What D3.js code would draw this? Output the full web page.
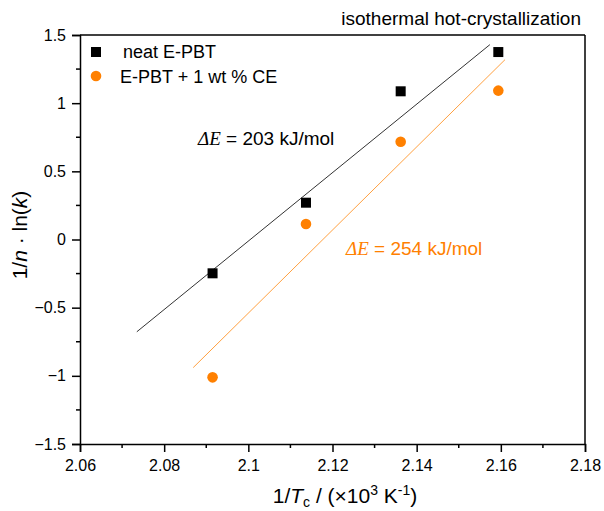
<!DOCTYPE html>
<html>
<head>
  <meta charset="UTF-8">
  <style>
    body { margin: 0; background: white; }
    svg text { font-family: Arial, "Liberation Sans", sans-serif; }
  </style>
</head>
<body>
<svg id="chart" width="604" height="511"></svg>
<script src="https://d3js.org/d3.v7.min.js"></script>
<script>

// data
let invTc = [2.0915, 2.1137, 2.1362, 2.1594];
let neatVals = [-0.248, 0.270, 1.087, 1.375];
let ceVals = [-1.011, 0.114, 0.717, 1.092];
let neatFitRange = [2.0735, 2.1574];
let ceFitRange = [2.0869, 2.161];
let xTicks = [2.06, 2.08, 2.1, 2.12, 2.14, 2.16, 2.18];
let yTicks = [-1.5, -1, -0.5, 0, 0.5, 1, 1.5];

let orange = "#ff8000";
let margin = {left: 80, right: 19, top: 35, bottom: 67};
let W = 604, H = 511;

let svg = d3.select("#chart");

let x = d3.scaleLinear().domain([2.06, 2.18]).range([margin.left, W - margin.right]);
let y = d3.scaleLinear().domain([-1.5, 1.5]).range([H - margin.bottom, margin.top]);

// least squares fit
function fit(xs, ys) {
    let mx = d3.mean(xs), my = d3.mean(ys);
    let sxy = d3.sum(xs, (v, i) => (v - mx) * (ys[i] - my));
    let sxx = d3.sum(xs, v => (v - mx) * (v - mx));
    let b = sxy / sxx;
    return v => my + b * (v - mx);
}

// minor ticks
let xMinor = d3.range(2.07, 2.18, 0.02);
let yMinor = d3.range(-1.25, 1.5, 0.5);

let gx = svg.append("g").attr("transform", "translate(0," + y.range()[0] + ")");
gx.call(d3.axisBottom(x).tickValues(xTicks).tickSize(8).tickPadding(3).tickFormat(d3.format("")));
gx.selectAll(".minor").data(xMinor).enter().append("line")
    .attr("x1", d => x(d)).attr("x2", d => x(d))
    .attr("y1", 0).attr("y2", 4).attr("stroke", "black").attr("stroke-width", 1.5);

let gy = svg.append("g").attr("transform", "translate(" + x.range()[0] + ",0)");
gy.call(d3.axisLeft(y).tickValues(yTicks).tickSize(8).tickPadding(6).tickFormat(d3.format("")));
gy.selectAll(".minor").data(yMinor).enter().append("line")
    .attr("y1", d => y(d)).attr("y2", d => y(d))
    .attr("x1", 0).attr("x2", -4).attr("stroke", "black").attr("stroke-width", 1.5);

svg.selectAll(".domain").attr("stroke-width", 1.5);
svg.selectAll(".tick line").attr("stroke-width", 1.5);
svg.selectAll(".tick text").attr("font-size", 16).attr("fill", "black")
    .attr("font-family", "Arial, 'Liberation Sans', sans-serif");
gx.selectAll(".tick text").attr("dy", "1.0em");

// frame top and right
svg.append("line").attr("x1", x.range()[0]).attr("x2", x.range()[1])
    .attr("y1", y.range()[1]).attr("y2", y.range()[1]).attr("stroke", "black").attr("stroke-width", 1.5);
svg.append("line").attr("x1", x.range()[1]).attr("x2", x.range()[1])
    .attr("y1", y.range()[0]).attr("y2", y.range()[1]).attr("stroke", "black").attr("stroke-width", 1.5);

// fit lines
let neatFit = fit(invTc, neatVals);
let ceFit = fit(invTc, ceVals);
svg.append("line")
    .attr("x1", x(neatFitRange[0])).attr("y1", y(neatFit(neatFitRange[0])))
    .attr("x2", x(neatFitRange[1])).attr("y2", y(neatFit(neatFitRange[1])))
    .attr("stroke", "#333").attr("stroke-width", 1);
svg.append("line")
    .attr("x1", x(ceFitRange[0])).attr("y1", y(ceFit(ceFitRange[0])))
    .attr("x2", x(ceFitRange[1])).attr("y2", y(ceFit(ceFitRange[1])))
    .attr("stroke", "#ffa040").attr("stroke-width", 1);

// markers
svg.selectAll(".neat").data(invTc).enter().append("rect")
    .attr("x", d => x(d) - 5).attr("y", (d, i) => y(neatVals[i]) - 5)
    .attr("width", 10).attr("height", 10).attr("fill", "black");
svg.selectAll(".ce").data(invTc).enter().append("circle")
    .attr("cx", d => x(d)).attr("cy", (d, i) => y(ceVals[i]))
    .attr("r", 5.3).attr("fill", orange);

// legend
svg.append("rect").attr("x", 91).attr("y", 47).attr("width", 10).attr("height", 10).attr("fill", "black");
svg.append("text").attr("x", 123).attr("y", 58).attr("font-size", 18).text("neat E-PBT");
svg.append("circle").attr("cx", 96).attr("cy", 76).attr("r", 5.3).attr("fill", orange);
svg.append("text").attr("x", 120).attr("y", 83).attr("font-size", 18).text("E-PBT + 1 wt % CE");

// title
svg.append("text").attr("x", 581).attr("y", 25).attr("text-anchor", "end")
    .attr("font-size", 19).text("isothermal hot-crystallization");

// annotations
let a1 = svg.append("text").attr("x", 198).attr("y", 145).attr("font-size", 19);
a1.append("tspan").attr("font-family", "'Liberation Serif', 'DejaVu Serif', serif").attr("font-style", "italic").text("ΔE");
a1.append("tspan").text(" = 203 kJ/mol");
let a2 = svg.append("text").attr("x", 346).attr("y", 255).attr("font-size", 19).attr("fill", orange);
a2.append("tspan").attr("font-family", "'Liberation Serif', 'DejaVu Serif', serif").attr("font-style", "italic").text("ΔE");
a2.append("tspan").text(" = 254 kJ/mol");

// axis titles
let xl = svg.append("text").attr("x", 345).attr("y", 503).attr("text-anchor", "middle").attr("font-size", 21);
xl.append("tspan").text("1/");
xl.append("tspan").attr("font-style", "italic").text("T");
xl.append("tspan").attr("font-size", 14).attr("dy", 4).text("c");
xl.append("tspan").attr("dy", -4).text(" / (×10");
xl.append("tspan").attr("font-size", 14).attr("dy", -8).text("3");
xl.append("tspan").attr("dy", 8).text(" K");
xl.append("tspan").attr("font-size", 14).attr("dy", -8).text("-1");
xl.append("tspan").attr("dy", 8).text(")");

let yl = svg.append("text").attr("transform", "translate(27,235) rotate(-90)")
    .attr("text-anchor", "middle").attr("font-size", 21);
yl.append("tspan").text("1/");
yl.append("tspan").attr("font-style", "italic").text("n");
yl.append("tspan").text(" · ln(");
yl.append("tspan").attr("font-style", "italic").text("k");
yl.append("tspan").text(")");

</script>
</body>
</html>
